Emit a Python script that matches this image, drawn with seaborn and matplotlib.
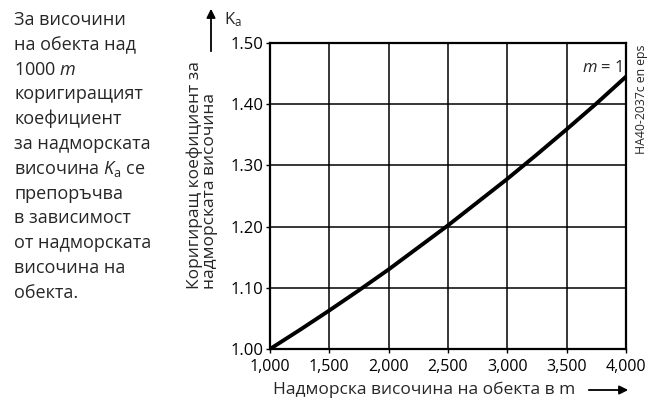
import numpy as np
import pandas as pd
import matplotlib.pyplot as plt
import seaborn as sns

# -----------------------------
# Data
# -----------------------------
altitude_m = [1000, 1250, 1500, 1750, 2000, 2250, 2500, 2750, 3000, 3250, 3500, 3750, 4000]
ka_values = [1.000, 1.031, 1.063, 1.096, 1.130, 1.166, 1.202, 1.240, 1.278, 1.318, 1.359, 1.401, 1.445]

x_ticks = [1000, 1500, 2000, 2500, 3000, 3500, 4000]
x_tick_labels = ["1,000", "1,500", "2,000", "2,500", "3,000", "3,500", "4,000"]
y_ticks = [1.0, 1.1, 1.2, 1.3, 1.4, 1.5]
y_tick_labels = ["1.00", "1.10", "1.20", "1.30", "1.40", "1.50"]

note_lines = [
    "За височини",
    "на обекта над",
    r"1000 $\mathit{m}$",
    "коригиращият",
    "коефициент",
    "за надморската",
    r"височина $\mathit{K}_{\mathrm{a}}$ се",
    "препоръчва",
    "в зависимост",
    "от надморската",
    "височина на",
    "обекта.",
]

df = pd.DataFrame({"altitude": altitude_m, "ka": ka_values})

# -----------------------------
# Figure
# -----------------------------
sns.set_theme(style="white")
plt.rcParams["font.family"] = ["Open Sans", "DejaVu Sans"]
plt.rcParams["mathtext.fontset"] = "custom"
plt.rcParams["mathtext.rm"] = "Open Sans"
plt.rcParams["mathtext.it"] = "Open Sans:italic"

W, H = 656, 401
fig = plt.figure(figsize=(W / 100, H / 100), dpi=100)


def fx(x):
    return x / W


def fy(y):
    return 1 - y / H


ax = fig.add_axes([fx(270), fy(349), fx(626) - fx(270), fy(43) - fy(349)])

sns.lineplot(data=df, x="altitude", y="ka", ax=ax, color="black", lw=2.8)

ax.set_xlim(1000, 4000)
ax.set_ylim(1.0, 1.5)
ax.set_xticks(x_ticks)
ax.set_xticklabels(x_tick_labels, fontsize=11.5)
ax.set_yticks(y_ticks)
ax.set_yticklabels(y_tick_labels, fontsize=12)
ax.set_xlabel("")
ax.set_ylabel("")
ax.grid(True, color="black", lw=1.1)
for s in ax.spines.values():
    s.set_color("black")
    s.set_linewidth(1.6)
ax.tick_params(axis="both", direction="out", length=3, width=1, color="black",
               colors="black", bottom=True, left=True)
ax.tick_params(axis="y", pad=1.5)
ax.tick_params(axis="x", pad=4)

# y label (two lines, rotated)
fig.text(fx(202), fy(289), "Коригиращ коефициент за\nнадморската височина",
         rotation=90, ha="center", va="bottom", multialignment="left",
         fontsize=12.5, linespacing=0.95)

# Ka arrow at top
ax.annotate("", xy=(fx(211), fy(6)), xytext=(fx(211), fy(54)), xycoords="figure fraction",
            arrowprops=dict(arrowstyle="-|>", color="black", lw=1.3, mutation_scale=13))
fig.text(fx(224), fy(20), r"K$_{\mathrm{a}}$", ha="left", va="center", fontsize=12)

# x label with arrow
fig.text(fx(424), fy(390), "Надморска височина на обекта в m", ha="center", va="center",
         fontsize=12.5)
ax.annotate("", xy=(fx(631), fy(390)), xytext=(fx(586), fy(390)), xycoords="figure fraction",
            arrowprops=dict(arrowstyle="-|>", color="black", lw=1.3, mutation_scale=13))

# curve label and reference id
ax.text(0.989, 0.918, r"$\mathit{m}$ = 1", transform=ax.transAxes, ha="right", va="center",
        fontsize=12)
fig.text(fx(641), fy(99), "HA40-2037c en eps", rotation=90, ha="center", va="center",
         fontsize=8.8)

# note text on the left
for i, line in enumerate(note_lines):
    fig.text(fx(14), fy(20 + i * 24.8), line, ha="left", va="center", fontsize=13)

plt.savefig("out.png", dpi=100)
plt.close()
